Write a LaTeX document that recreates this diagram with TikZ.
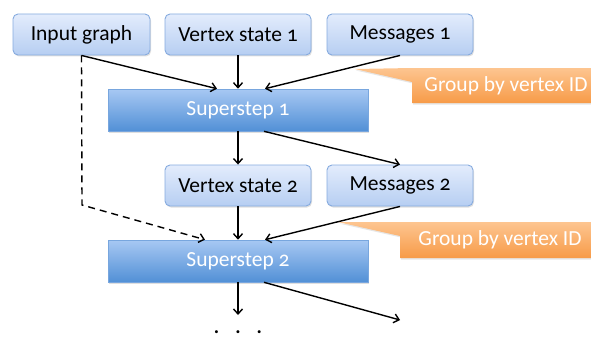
\documentclass[tikz,border=0pt]{standalone}
\usepackage{fontspec}
\setmainfont{Carlito}[Numbers=OldStyle]
\usetikzlibrary{arrows.meta,shadows}
\definecolor{lbtop}{HTML}{E3ECFC}
\definecolor{lbbot}{HTML}{B6CEF2}
\definecolor{lbline}{HTML}{86ABDF}
\definecolor{dbtop}{HTML}{A7C8F3}
\definecolor{dbbot}{HTML}{5290D6}
\definecolor{dbline}{HTML}{78A6DE}
\definecolor{ortop}{HTML}{FDC590}
\definecolor{orbot}{HTML}{F79B48}
\tikzset{
  x=1pt, y=-1pt,
  bigfont/.style={font=\fontsize{21.5}{24}\selectfont},
  lightbox/.style={draw=lbline, line width=0.9pt, rounded corners=5pt,
    top color=lbtop, bottom color=lbbot, minimum height=41pt,
    minimum width=146pt, inner sep=0pt, bigfont,
    drop shadow={shadow xshift=1pt, shadow yshift=-1.5pt, opacity=0.25}},
  darkbox/.style={draw=dbline, line width=0.6pt,
    top color=dbtop, bottom color=dbbot, minimum height=42pt,
    minimum width=260pt, inner sep=0pt, text=white, bigfont,
    drop shadow={shadow xshift=1pt, shadow yshift=-1.5pt, opacity=0.25}},
  callout/.style={top color=ortop, bottom color=orbot, draw=none,
    drop shadow={shadow xshift=1pt, shadow yshift=-1.5pt, opacity=0.2}},
  callouttext/.style={text=white, bigfont, inner sep=0pt},
  arr/.style={-{Straight Barb[length=5pt,width=9pt]}, line width=1.4pt, black},
  dsh/.style={arr, dash pattern=on 7pt off 5pt}
}
\begin{document}
\begin{tikzpicture}
\useasboundingbox (0,0) rectangle (591,337);

% callouts
\path[callout] (355,69) -- (412,68) -- (591,68) -- (591,103) -- (412,103) -- (412,82) -- cycle;
\node[callouttext] (g1) at (506,86) {Group by vertex ID};
\path[callout] (338,222) -- (400,222) -- (591,222) -- (591,258) -- (400,258) -- (400,236) -- cycle;
\node[callouttext] (g2) at (500,240) {Group by vertex ID};

% boxes
\node[lightbox, minimum width=137pt] (ig) at (81.5,34.5) {Input graph};
\node[lightbox] (vs1) at (238,34.5) {Vertex state 1};
\node[lightbox] (m1) at (400,34.5) {Messages 1};
\node[darkbox] (ss1) at (238,110) {Superstep 1};
\node[lightbox] (vs2) at (238,185.5) {Vertex state 2};
\node[lightbox] (m2) at (400,185.5) {Messages 2};
\node[darkbox] (ss2) at (238,261) {Superstep 2};

\coordinate (bend) at (82,205);
\coordinate (end1) at (238,315);
\coordinate (end2) at (400,320);

% arrows
\draw[arr] (ig.south) -- ([xshift=-21pt]ss1.north);
\draw[arr] (vs1.south) -- (ss1.north);
\draw[arr] (m1.south) -- ([xshift=27pt]ss1.north);
\draw[arr] (ss1.south) -- (vs2.north);
\draw[arr] ([xshift=26pt]ss1.south) -- (m2.north);
\draw[arr] (vs2.south) -- (ss2.north);
\draw[arr] (m2.south) -- ([xshift=27pt]ss2.north);
\draw[dsh] (ig.south) -- (bend) -- ([xshift=-33pt]ss2.north);
\draw[arr] (ss2.south) -- (end1);
\draw[arr] ([xshift=26pt]ss2.south) -- (end2);

\node[font=\fontsize{20}{22}\selectfont\bfseries, inner sep=0pt, text depth=0pt, anchor=base] (dots) at (238,333.5) {.\hspace{16pt}.\hspace{16pt}.};
\end{tikzpicture}
\end{document}
